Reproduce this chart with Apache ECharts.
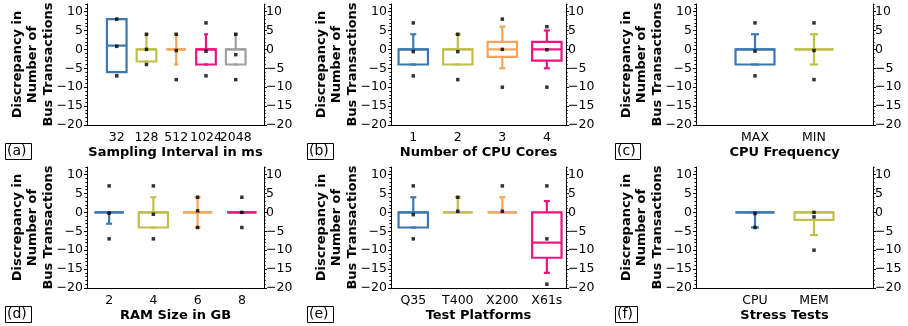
<!DOCTYPE html>
<html>
<head>
<meta charset="utf-8">
<script src="https://cdn.jsdelivr.net/npm/echarts@6/dist/echarts.min.js"></script>
<style>
  html, body { margin: 0; padding: 0; background: #fff; }
  #chart { width: 908px; height: 326px; }
</style>
</head>
<body>
<div id="chart"></div>
<script>
// Box outline colours, in category order
const boxColors = ['#3b78b0', '#bfbf4c', '#f3a55a', '#e8157f', '#a0a0a0'];

// Shared y range and tick labels
const yMin = -20;
const yMax = 12;
const yMajorTicks = [-20, -15, -10, -5, 0, 5, 10];
const yMinorTicks = [];
for (let v = yMin; v <= yMax; v++) yMinorTicks.push(v);
const yTitle = 'Discrepancy in\nNumber of\nBus Transactions';

// Each box: [lower whisker, Q1, median, Q3, upper whisker]
// Each dot list: mean and outlier points

// (a) Sampling interval
const intervalCats = ['32', '128', '512', '1024', '2048'];
const intervalBoxes = [
  [-6, -6, 1, 8, 8],
  [-3.2, -3.2, 0, 0, 4],
  [-4, 0, 0, 0, 4],
  [-4, -4, 0, 0, 4],
  [-4, -4, 0, 0, 4]
];
const intervalDots = [[8, 0.8, -7], [4, 0, -4], [4, -0.3, -8], [7, -0.5, -7], [4, -1.4, -8]];

// (b) CPU cores
const coreCats = ['1', '2', '3', '4'];
const coreBoxes = [
  [-4, -4, 0, 0, 4],
  [-4, -4, 0, 0, 4],
  [-5, -2, 0, 2, 6],
  [-5, -3, 0, 2, 5]
];
const coreDots = [[7, -0.6, -7], [4, -0.6, -8], [8, 0, -10], [6, -0.1, -10]];

// (c) CPU frequency
const freqCats = ['MAX', 'MIN'];
const freqBoxes = [
  [-4, -4, 0, 0, 4],
  [-4, 0, 0, 0, 4]
];
const freqDots = [[7, -0.5, -7], [7, -0.3, -8]];

// (d) RAM size
const ramCats = ['2', '4', '6', '8'];
const ramBoxes = [
  [-3, 0, 0, 0, 0],
  [-4, -4, 0, 0, 4],
  [-4, 0, 0, 0, 4],
  [0, 0, 0, 0, 0]
];
const ramDots = [[7, -0.2, -7], [7, -0.5, -7], [4, 0.4, -4], [4, 0, -4]];

// (e) Test platforms
const platformCats = ['Q35', 'T400', 'X200', 'X61s'];
const platformBoxes = [
  [-4, -4, 0, 0, 4],
  [0, 0, 0, 0, 4],
  [0, 0, 0, 0, 4],
  [-16, -12, -8, 0, 3]
];
const platformDots = [[7, -0.6, -7], [4, 0.3], [7, 0.3], [7, -7, -19]];

// (f) Stress tests
const stressCats = ['CPU', 'MEM'];
const stressBoxes = [
  [-4, 0, 0, 0, 0],
  [-6, -2, 0, 0, 0]
];
const stressDots = [[-0.3, -4], [0, -1.2, -10]];

// Panel layout
const panels = [
  { tag: '(a)', title: 'Sampling Interval in ms', cats: intervalCats, boxes: intervalBoxes, dots: intervalDots,
    grid: { left: 87, top: 4, width: 177, height: 121 }, xRange: [0, 5.95], tagPos: [5, 143] },
  { tag: '(b)', title: 'Number of CPU Cores', cats: coreCats, boxes: coreBoxes, dots: coreDots,
    grid: { left: 391, top: 4, width: 175, height: 121 }, xRange: [0.5, 4.43], tagPos: [307, 143] },
  { tag: '(c)', title: 'CPU Frequency', cats: freqCats, boxes: freqBoxes, dots: freqDots,
    grid: { left: 696, top: 4, width: 177, height: 121 }, xRange: [0, 3], tagPos: [615, 143] },
  { tag: '(d)', title: 'RAM Size in GB', cats: ramCats, boxes: ramBoxes, dots: ramDots,
    grid: { left: 87, top: 167, width: 177, height: 121 }, xRange: [0.5, 4.5], tagPos: [5, 306] },
  { tag: '(e)', title: 'Test Platforms', cats: platformCats, boxes: platformBoxes, dots: platformDots,
    grid: { left: 391, top: 167, width: 175, height: 121 }, xRange: [0.5, 4.43], tagPos: [307, 306] },
  { tag: '(f)', title: 'Stress Tests', cats: stressCats, boxes: stressBoxes, dots: stressDots,
    grid: { left: 696, top: 167, width: 177, height: 121 }, xRange: [0, 3], tagPos: [615, 306] }
];

const FONT = 'DejaVu Sans';
const BOX_W = 0.66;
const CAP_W = 0.135;
const LINE_W = 2.2;
const minus = v => String(v).replace('-', '\u2212');

function renderBox(params, api) {
  const x = api.value(0);
  const lo = api.value(1), q1 = api.value(2), med = api.value(3), q3 = api.value(4), hi = api.value(5);
  const color = boxColors[params.dataIndex % boxColors.length];
  const style = { stroke: color, lineWidth: LINE_W, fill: null };
  const seg = (xa, ya, xb, yb) => {
    const a = api.coord([xa, ya]);
    const b = api.coord([xb, yb]);
    return { type: 'line', shape: { x1: a[0], y1: a[1], x2: b[0], y2: b[1] }, style };
  };
  const hw = BOX_W / 2, cw = CAP_W / 2;
  const children = [];
  // whiskers and caps
  if (hi > q3) children.push(seg(x, q3, x, hi));
  if (lo < q1) children.push(seg(x, q1, x, lo));
  children.push(seg(x - cw, hi, x + cw, hi));
  children.push(seg(x - cw, lo, x + cw, lo));
  // box
  const tl = api.coord([x - hw, q3]);
  const br = api.coord([x + hw, q1]);
  if (q3 > q1) {
    children.push({
      type: 'rect',
      shape: { x: tl[0], y: tl[1], width: br[0] - tl[0], height: br[1] - tl[1] },
      style: { stroke: color, lineWidth: LINE_W, fill: 'rgba(255,255,255,0)' }
    });
  } else {
    children.push(seg(x - hw, q1, x + hw, q1));
  }
  // median
  children.push(seg(x - hw, med, x + hw, med));
  return { type: 'group', children };
}

const grids = [], xAxes = [], yAxes = [], series = [], titles = [];

panels.forEach((p, i) => {
  grids.push(Object.assign({ containLabel: false, outerBoundsMode: 'none' }, p.grid));

  const positions = p.cats.map((c, k) => k + 1);
  const labelStyle = {
    formatter: v => p.cats[Math.round(v) - 1] || '',
    hideOverlap: false,
    margin: 6, fontSize: 12.5, color: '#000', fontFamily: FONT
  };
  // Main x axis: line, title and odd-numbered category labels
  const xStart = xAxes.length;
  xAxes.push({
    type: 'value', gridIndex: i, position: 'bottom', min: p.xRange[0], max: p.xRange[1],
    axisLine: { show: true, onZero: false, lineStyle: { color: '#000', width: 1 } },
    axisTick: { show: false },
    splitLine: { show: false },
    axisLabel: Object.assign({ customValues: positions.filter(v => v % 2 === 1) }, labelStyle),
    name: p.title, nameLocation: 'middle', nameGap: 21, nameMoveOverlap: false,
    nameTextStyle: { fontWeight: 'bold', fontSize: 13, color: '#000', fontFamily: FONT }
  });
  // Companion x axis carrying the even-numbered category labels (tight neighbours stay visible)
  xAxes.push({
    type: 'value', gridIndex: i, position: 'bottom', min: p.xRange[0], max: p.xRange[1],
    axisLine: { show: false, onZero: false }, axisTick: { show: false }, splitLine: { show: false },
    axisLabel: Object.assign({ customValues: positions.filter(v => v % 2 === 0) }, labelStyle)
  });

  const yBase = { type: 'value', gridIndex: i, min: yMin, max: yMax, splitLine: { show: false } };
  const yStart = yAxes.length;
  ['left', 'right'].forEach(side => {
    // major ticks with labels
    const major = Object.assign({}, yBase, {
      position: side,
      axisLine: { show: true, onZero: false, lineStyle: { color: '#000', width: 1 } },
      axisTick: { show: true, customValues: yMajorTicks, length: 3, lineStyle: { color: '#000', width: 1 } },
      axisLabel: {
        customValues: yMajorTicks, formatter: minus,
        margin: side === 'left' ? 4 : 2, fontSize: 12.5, color: '#000', fontFamily: FONT
      }
    });
    if (side === 'left') {
      Object.assign(major, {
        name: yTitle, nameLocation: 'middle', nameGap: 31, nameMoveOverlap: false,
        nameTextStyle: { fontWeight: 'bold', fontSize: 13, lineHeight: 15.5, color: '#000', fontFamily: FONT, align: 'center' }
      });
    }
    yAxes.push(major);
    // minor ticks
    yAxes.push(Object.assign({}, yBase, {
      position: side,
      axisLine: { show: false, onZero: false },
      axisTick: { show: true, customValues: yMinorTicks, length: 1.6, lineStyle: { color: '#000', width: 1 } },
      axisLabel: { show: false }
    }));
  });

  series.push({
    type: 'custom', xAxisIndex: xStart, yAxisIndex: yStart,
    renderItem: renderBox,
    dimensions: ['x', 'low', 'q1', 'median', 'q3', 'high'],
    encode: { x: 0, y: [1, 2, 3, 4, 5] },
    data: p.boxes.map((b, k) => [k + 1].concat(b)),
    z: 2, silent: true
  });

  const dotData = [];
  p.dots.forEach((list, k) => list.forEach(v => dotData.push([k + 1, v])));
  series.push({
    type: 'scatter', xAxisIndex: xStart, yAxisIndex: yStart,
    symbol: 'rect', symbolSize: 3.5,
    itemStyle: { color: '#000' },
    data: dotData, z: 5, silent: true
  });

  titles.push({
    text: p.tag, left: p.tagPos[0], top: p.tagPos[1],
    padding: [1, 5, 1, 2],
    borderColor: '#000', borderWidth: 1,
    textStyle: { fontSize: 14, fontWeight: 'normal', color: '#000', fontFamily: FONT, lineHeight: 15 }
  });
});

const chart = echarts.init(document.getElementById('chart'), null, { renderer: 'canvas' });
chart.setOption({
  animation: false,
  backgroundColor: '#fff',
  textStyle: { fontFamily: FONT },
  title: titles,
  grid: grids,
  xAxis: xAxes,
  yAxis: yAxes,
  series: series
});
</script>
</body>
</html>
